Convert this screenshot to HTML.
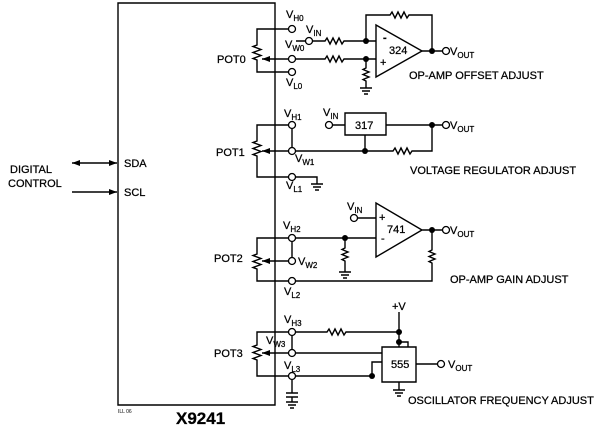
<!DOCTYPE html>
<html><head><style>
html,body{margin:0;padding:0;background:#fff;}
svg{display:block;}
text{font-family:"Liberation Sans",Arial,sans-serif;font-size:11px;fill:#000;stroke:#000;stroke-width:0.25;}
.s{font-size:8px;}
</style></head><body>
<svg width="600" height="438" viewBox="0 0 600 438" xmlns="http://www.w3.org/2000/svg">
<defs>
<marker id="ah" markerWidth="8" markerHeight="6" refX="8" refY="3" orient="auto" markerUnits="userSpaceOnUse"><path d="M0,0 L8,3 L0,6 Z" fill="#000"/></marker>
<marker id="ahs" markerWidth="8" markerHeight="6" refX="0" refY="3" orient="auto" markerUnits="userSpaceOnUse"><path d="M8,0 L0,3 L8,6 Z" fill="#000"/></marker>
</defs>
<g stroke="#000" stroke-width="1.4" fill="none">
<path d="M118,3 H275 V405 H118 Z"/>
<line x1="72" y1="163" x2="117" y2="163" marker-start="url(#ahs)" marker-end="url(#ah)"/>
<line x1="72" y1="192" x2="117" y2="192" marker-end="url(#ah)"/>

<path d="M292,29 H257 V45 l-4,1.5 l8,3 l-8,3 l8,3 l-8,3 l4,1.5 V72 H292"/>
<line x1="292" y1="59" x2="262" y2="59" marker-end="url(#ah)"/>
<path d="M296,41 H325 l2,-3 l3,6 l3,-6 l3,6 l3,-6 l3,6 l2,-3 H376"/>
<path d="M296,59 H325 l2,-3 l3,6 l3,-6 l3,6 l3,-6 l3,6 l2,-3 H376"/>
<path d="M366,41 V15 H390 l2,-3 l3,6 l3,-6 l3,6 l3,-6 l3,6 l2,-3 H432 V51"/>
<path d="M376,25 V77 L422,51 Z"/>
<path d="M422,51 H443"/>
<path d="M366,59 V68 l-3,1.5 l6,2.5 l-6,2.5 l6,2.5 l-6,2.5 l3,1.5 V88 M360,88 H372 M362,91 H370 M364,94 H368"/>

<path d="M292,125 H257 V141 l-4,1.5 l8,3 l-8,3 l8,3 l-8,3 l4,1.5 V177 H292"/>
<line x1="292" y1="151" x2="262" y2="151" marker-end="url(#ah)"/>
<line x1="292" y1="129" x2="292" y2="147"/>
<path d="M333,125 H345 M345,113 H386 V135 H345 Z M386,125 H443"/>
<path d="M365,135 V151"/>
<path d="M296,151 H393 l2,-3 l3,6 l3,-6 l3,6 l3,-6 l3,6 l2,-3 H432 V125"/>
<path d="M296,177 H317 V184 M311,184 H323 M313,187 H321 M315,190 H319"/>

<path d="M288,238 H257 V254 l-4,1.5 l8,3 l-8,3 l8,3 l-8,3 l4,1.5 V281 H288"/>
<line x1="288" y1="261" x2="262" y2="261" marker-end="url(#ah)"/>
<line x1="292" y1="242" x2="292" y2="257"/>
<path d="M296,238 H376 M358,218 H376"/>
<path d="M376,203 V257 L422,230 Z M422,230 H443"/>
<path d="M345,238 V248 l-3,1.5 l6,2.5 l-6,2.5 l6,2.5 l-6,2.5 l3,1.5 V272 M339,272 H351 M341,275 H349 M343,278 H347"/>
<path d="M432,230 V250 l-3,1.5 l6,2.5 l-6,2.5 l6,2.5 l-6,2.5 l3,1.5 V281 H296"/>

<path d="M288,332 H257 V345 l-4,1.5 l8,3 l-8,3 l8,3 l-8,3 l4,1.5 V376 H288"/>
<line x1="288" y1="353" x2="262" y2="353" marker-end="url(#ah)"/>
<line x1="292" y1="336" x2="292" y2="349"/>
<path d="M296,332 H327 l2,-3 l3,6 l3,-6 l3,6 l3,-6 l3,6 l2,-3 H399 M399,312 V347 M399,342 H408 V347"/>
<path d="M382,347 H416 V382 H382 Z"/>
<path d="M296,353 H382 M296,376 H372 V362 H382 M416,364 H438"/>
<path d="M399,382 V390 M393,390 H405 M395,393 H403 M397,396 H401"/>
<path d="M292,380 V393 M286,393 H298 M286,397 H298 M292,397 V402 M286,402 H298 M288,405 H296 M290,408 H294"/>
</g>
<g fill="#fff" stroke="#000" stroke-width="1.3">
<circle cx="292" cy="29" r="3.5"/><circle cx="292" cy="59" r="3.5"/><circle cx="292" cy="72" r="3.5"/>
<circle cx="309" cy="41" r="3.5"/><circle cx="446" cy="51" r="3.5"/>
<circle cx="292" cy="125" r="3.5"/><circle cx="292" cy="151" r="3.5"/><circle cx="292" cy="177" r="3.5"/>
<circle cx="329" cy="125" r="3.5"/><circle cx="446" cy="125" r="3.5"/>
<circle cx="292" cy="238" r="3.5"/><circle cx="292" cy="261" r="3.5"/><circle cx="292" cy="281" r="3.5"/>
<circle cx="354" cy="218" r="3.5"/><circle cx="446" cy="230" r="3.5"/>
<circle cx="292" cy="332" r="3.5"/><circle cx="292" cy="353" r="3.5"/><circle cx="292" cy="376" r="3.5"/>
<circle cx="441" cy="364" r="3.5"/>
</g>
<g fill="#000">
<circle cx="366" cy="41" r="3"/><circle cx="366" cy="59" r="3"/><circle cx="432" cy="51" r="3"/>
<circle cx="432" cy="125" r="3"/><circle cx="365" cy="151" r="3"/>
<circle cx="345" cy="238" r="3"/><circle cx="432" cy="230" r="3"/>
<circle cx="399" cy="332" r="3"/><circle cx="399" cy="342" r="3"/><circle cx="372" cy="376" r="3"/>
</g>
<text x="10" y="173">DIGITAL</text>
<text x="8" y="187">CONTROL</text>
<text x="124" y="167">SDA</text>
<text x="124" y="196">SCL</text>
<text x="217" y="63">POT0</text>
<text x="216" y="156">POT1</text>
<text x="214" y="262">POT2</text>
<text x="214" y="357">POT3</text>
<text x="286" y="18">V<tspan class="s" dy="3">H0</tspan></text>
<text x="285" y="48">V<tspan class="s" dy="3">W0</tspan></text>
<text x="286" y="86">V<tspan class="s" dy="3">L0</tspan></text>
<text x="306" y="33">V<tspan class="s" dy="3">IN</tspan></text>
<text x="383" y="41" font-weight="bold">-</text>
<text x="380" y="66">+</text>
<text x="389" y="54">324</text>
<text x="450" y="55">V<tspan class="s" dy="3">OUT</tspan></text>
<text x="409" y="79">OP-AMP OFFSET ADJUST</text>
<text x="284" y="117">V<tspan class="s" dy="3">H1</tspan></text>
<text x="295" y="162">V<tspan class="s" dy="3">W1</tspan></text>
<text x="286" y="189">V<tspan class="s" dy="3">L1</tspan></text>
<text x="323" y="116">V<tspan class="s" dy="3">IN</tspan></text>
<text x="355" y="129">317</text>
<text x="450" y="129">V<tspan class="s" dy="3">OUT</tspan></text>
<text x="410" y="174">VOLTAGE REGULATOR ADJUST</text>
<text x="347" y="210">V<tspan class="s" dy="3">IN</tspan></text>
<text x="379" y="221">+</text>
<text x="381" y="242">-</text>
<text x="387" y="233">741</text>
<text x="450" y="234">V<tspan class="s" dy="3">OUT</tspan></text>
<text x="283" y="229">V<tspan class="s" dy="3">H2</tspan></text>
<text x="298" y="265">V<tspan class="s" dy="3">W2</tspan></text>
<text x="284" y="295">V<tspan class="s" dy="3">L2</tspan></text>
<text x="450" y="283">OP-AMP GAIN ADJUST</text>
<text x="392" y="310">+V</text>
<text x="284" y="323">V<tspan class="s" dy="3">H3</tspan></text>
<text x="266" y="344">V<tspan class="s" dy="3">W3</tspan></text>
<text x="284" y="369">V<tspan class="s" dy="3">L3</tspan></text>
<text x="391" y="368">555</text>
<text x="448" y="368">V<tspan class="s" dy="3">OUT</tspan></text>
<text x="408" y="404">OSCILLATOR FREQUENCY ADJUST</text>
<text x="118" y="413" style="font-size:5px;stroke-width:0">ILL 06</text>
<text x="176" y="424" style="font-size:17px;font-weight:bold">X9241</text>
</svg>
</body></html>
